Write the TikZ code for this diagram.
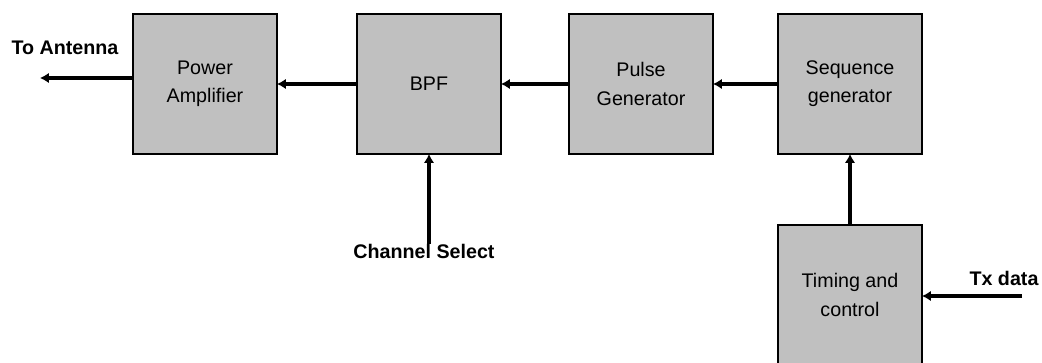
\documentclass[tikz,border=0pt]{standalone}
\usepackage{fontspec}
\setmainfont{Liberation Sans}
\usetikzlibrary{arrows.meta,positioning,calc}
\definecolor{boxgray}{RGB}{192,192,192}

\tikzset{
  block/.style={rectangle,draw,fill=boxgray,line width=2pt,minimum width=3.6cm,minimum height=3.5cm,
    align=center,inner sep=0pt,outer sep=0pt,font=\fontsize{14}{20}\selectfont},
  sig/.style={line width=2.2pt,-{Latex[length=2.2mm,width=2.6mm]}},
  lbl/.style={font=\fontsize{14}{16}\selectfont\bfseries,inner sep=0pt}
}

\begin{document}
\begin{tikzpicture}
  \useasboundingbox (0,0) rectangle (26.05,-9.075);

  \node[block] (pa) at (5.125,-2.1) {Power\\Amplifier};
  \node[block,right=2cm of pa] (bpf) {BPF};
  \node[block,right=1.7cm of bpf] (pulse) {Pulse\\Generator};
  \node[block,right=1.625cm of pulse] (seq) {Sequence\\generator};
  \node[block,below=1.775cm of seq] (timing) {Timing and\\control};

  \node[lbl] (ant) at (1.625,-1.2) {To Antenna};
  \node[lbl,anchor=north] (chsel) at (10.6,-6.1) {Channel Select};
  \node[lbl] (tx) at (25.1,-6.95) {Tx data};

  \coordinate (antend) at (1.0,-1.95);
  \coordinate (txin) at (25.55,-7.4);

  \draw[sig] (pa.west |- antend) -- (antend);
  \draw[sig] (bpf) -- (pa);
  \draw[sig] (pulse) -- (bpf);
  \draw[sig] (seq) -- (pulse);
  \draw[sig] (timing) -- (seq);
  \draw[sig] (chsel.north -| bpf.south) -- (bpf.south);
  \draw[sig] (txin) -- (txin -| timing.east);

\end{tikzpicture}
\end{document}
